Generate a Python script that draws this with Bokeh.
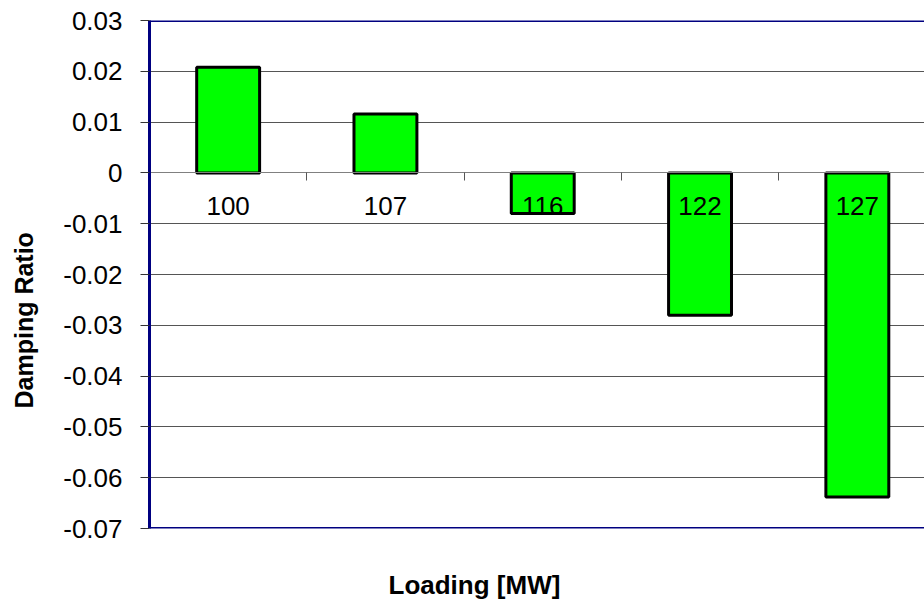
import math
from bokeh.plotting import figure
from bokeh.models import (LinearAxis, FixedTicker, Span, Title, CustomJSTickFormatter,
                          ColumnDataSource)
from bokeh.embed import file_html
from bokeh.resources import INLINE

# ---- data ----
loadings = ["100", "107", "116", "122", "127"]
damping = [0.0208, 0.0116, -0.008, -0.028, -0.0638]
y_ticks = [0.03, 0.02, 0.01, 0.0, -0.01, -0.02, -0.03, -0.04, -0.05, -0.06, -0.07]
x_title = "Loading [MW]"
y_title = "Damping Ratio"

FONT = "Liberation Sans"
NAVY = "#000080"

xs = [i + 0.5 for i in range(len(loadings))]
src = ColumnDataSource(dict(x=xs, top=damping, name=loadings))

p = figure(width=924, height=601, x_range=(0, 4.927), y_range=(-0.07, 0.03),
           output_backend="svg", toolbar_location=None, x_axis_location=None,
           min_border_left=149, min_border_right=0, min_border_top=20,
           min_border_bottom=73)
p.outline_line_color = None
p.background_fill_color = "white"
p.border_fill_color = "white"

# grid
p.xgrid.visible = False
p.ygrid.ticker = FixedTicker(ticks=y_ticks)
p.ygrid.grid_line_color = "#555555"
p.ygrid.grid_line_width = 1

# bars
p.vbar(x="x", top="top", bottom=0, width=0.4, source=src,
       fill_color="#00FF00", line_color="black", line_width=3)

# y axis
ya = p.yaxis[0]
ya.ticker = FixedTicker(ticks=y_ticks)
ya.formatter = CustomJSTickFormatter(code="""
    if (Math.abs(tick) < 1e-12) return "0";
    return tick.toFixed(2);
""")
ya.axis_line_color = NAVY
ya.axis_line_width = 3
ya.major_tick_out = 9
ya.major_tick_in = 0
ya.major_tick_line_color = "#333333"
ya.minor_tick_line_color = None
ya.major_label_standoff = 18
ya.major_label_text_font = FONT
ya.major_label_text_font_size = "26px"
ya.major_label_text_color = "black"

# x axis placed at zero
xa = LinearAxis(fixed_location=0,
                ticker=FixedTicker(ticks=xs, minor_ticks=[1, 2, 3, 4]),
                major_label_overrides={x: n for x, n in zip(xs, loadings)})
xa.axis_line_color = "#808080"
xa.axis_line_width = 1
xa.major_tick_line_color = None
xa.major_tick_out = 0
xa.major_tick_in = 0
xa.minor_tick_out = 8
xa.minor_tick_in = 0
xa.minor_tick_line_color = "#555555"
xa.major_label_standoff = 16
xa.major_label_text_font = FONT
xa.major_label_text_font_size = "26px"
xa.major_label_text_color = "black"
p.add_layout(xa, "below")

# empty titles used only as spacers
p.add_layout(Title(text=" ", text_font_size="2px", standoff=35), "below")
p.add_layout(Title(text=" ", text_font_size="2px", standoff=19), "left")

# frame top / bottom borders
for yv in (y_ticks[0], y_ticks[-1]):
    p.add_layout(Span(location=yv, dimension="width", line_color=NAVY, line_width=3))

# titles
p.add_layout(Title(text=x_title, text_font=FONT, text_font_size="26px",
                   text_font_style="bold", align="left", offset=239, standoff=0,
                   text_color="black"), "below")
p.add_layout(Title(text=y_title, text_font=FONT, text_font_size="25px",
                   text_font_style="bold", align="left", offset=120,
                   standoff=0, text_color="black"), "left")

open("out.html", "w").write(file_html(p, INLINE))
